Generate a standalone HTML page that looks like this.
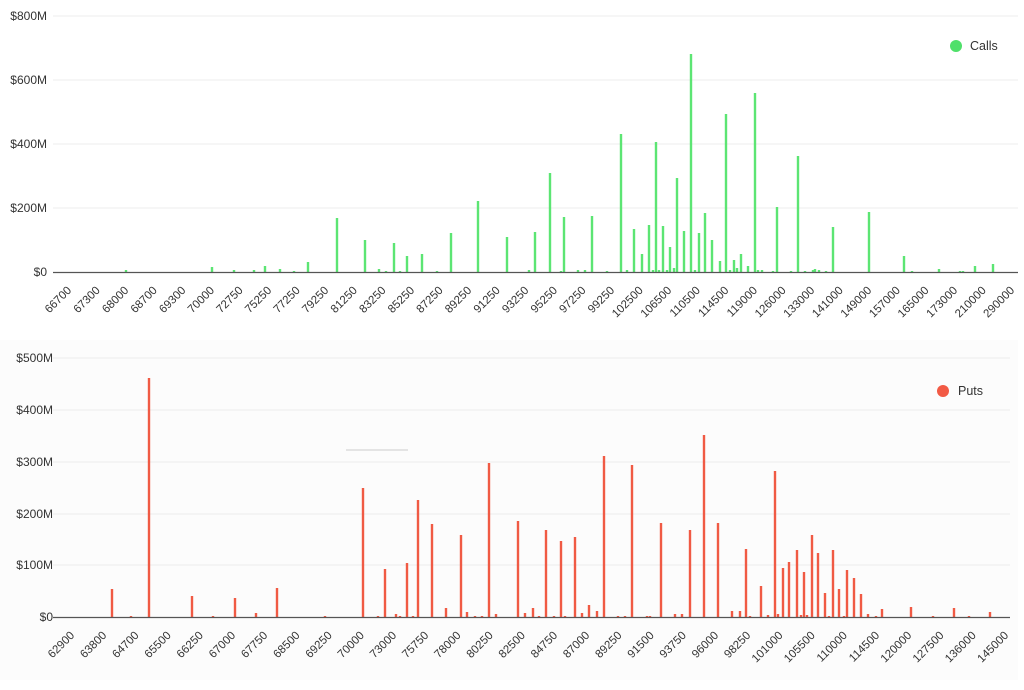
<!DOCTYPE html>
<html><head><meta charset="utf-8"><style>
html,body{margin:0;padding:0;background:#fff;width:1024px;height:690px;overflow:hidden}
svg{display:block;font-family:"Liberation Sans",sans-serif}
.yl{font-size:12px;fill:#333;text-anchor:end}
.xl{font-size:11.5px;fill:#333;text-anchor:end}
</style></head><body>
<svg id="s" width="1024" height="690" viewBox="0 0 1024 690">
<rect x="0" y="340" width="1018" height="340" fill="#fcfcfc"/>
<g stroke="#ececec" stroke-width="1">
<line x1="53" x2="1018" y1="16" y2="16"/><line x1="53" x2="1018" y1="80" y2="80"/><line x1="53" x2="1018" y1="144" y2="144"/><line x1="53" x2="1018" y1="208" y2="208"/>
<line x1="53" x2="1010" y1="358" y2="358"/><line x1="53" x2="1010" y1="410" y2="410"/><line x1="53" x2="1010" y1="462" y2="462"/><line x1="53" x2="1010" y1="514" y2="514"/><line x1="53" x2="1010" y1="565" y2="565"/>
</g>
<line x1="346" x2="408" y1="450" y2="450" stroke="#ccc"/>
<g class="yl">
<text x="47" y="20">$800M</text><text x="47" y="84">$600M</text><text x="47" y="148">$400M</text><text x="47" y="212">$200M</text><text x="47" y="276">$0</text>
<text x="53" y="362">$500M</text><text x="53" y="414">$400M</text><text x="53" y="466">$300M</text><text x="53" y="518">$200M</text><text x="53" y="569">$100M</text><text x="53" y="621">$0</text>
</g>
<g id="bars"></g>
<line x1="53" x2="1018" y1="272.5" y2="272.5" stroke="#555" stroke-width="1.2"/>
<line x1="53" x2="1010" y1="617.5" y2="617.5" stroke="#555" stroke-width="1.2"/>
<circle cx="956" cy="46" r="6" fill="#4fe06a"/><text x="970" y="50" font-size="12.5" fill="#333">Calls</text>
<circle cx="943" cy="391" r="6" fill="#f25a45"/><text x="958" y="395" font-size="12.5" fill="#333">Puts</text>
<g class="xl">
<text transform="translate(72,291) rotate(-45)">66700</text>
<text transform="translate(100.6,291) rotate(-45)">67300</text>
<text transform="translate(129.2,291) rotate(-45)">68000</text>
<text transform="translate(157.7,291) rotate(-45)">68700</text>
<text transform="translate(186.3,291) rotate(-45)">69300</text>
<text transform="translate(214.9,291) rotate(-45)">70000</text>
<text transform="translate(243.5,291) rotate(-45)">72750</text>
<text transform="translate(272.1,291) rotate(-45)">75250</text>
<text transform="translate(300.6,291) rotate(-45)">77250</text>
<text transform="translate(329.2,291) rotate(-45)">79250</text>
<text transform="translate(357.8,291) rotate(-45)">81250</text>
<text transform="translate(386.4,291) rotate(-45)">83250</text>
<text transform="translate(415,291) rotate(-45)">85250</text>
<text transform="translate(443.5,291) rotate(-45)">87250</text>
<text transform="translate(472.1,291) rotate(-45)">89250</text>
<text transform="translate(500.7,291) rotate(-45)">91250</text>
<text transform="translate(529.3,291) rotate(-45)">93250</text>
<text transform="translate(557.9,291) rotate(-45)">95250</text>
<text transform="translate(586.4,291) rotate(-45)">97250</text>
<text transform="translate(615,291) rotate(-45)">99250</text>
<text transform="translate(643.6,291) rotate(-45)">102500</text>
<text transform="translate(672.2,291) rotate(-45)">106500</text>
<text transform="translate(700.8,291) rotate(-45)">110500</text>
<text transform="translate(729.3,291) rotate(-45)">114500</text>
<text transform="translate(757.9,291) rotate(-45)">119000</text>
<text transform="translate(786.5,291) rotate(-45)">126000</text>
<text transform="translate(815.1,291) rotate(-45)">133000</text>
<text transform="translate(843.7,291) rotate(-45)">141000</text>
<text transform="translate(872.2,291) rotate(-45)">149000</text>
<text transform="translate(900.8,291) rotate(-45)">157000</text>
<text transform="translate(929.4,291) rotate(-45)">165000</text>
<text transform="translate(958,291) rotate(-45)">173000</text>
<text transform="translate(986.6,291) rotate(-45)">210000</text>
<text transform="translate(1015,291) rotate(-45)">290000</text>

<text transform="translate(75,636) rotate(-45)">62900</text>
<text transform="translate(107.2,636) rotate(-45)">63800</text>
<text transform="translate(139.4,636) rotate(-45)">64700</text>
<text transform="translate(171.6,636) rotate(-45)">65500</text>
<text transform="translate(203.8,636) rotate(-45)">66250</text>
<text transform="translate(236,636) rotate(-45)">67000</text>
<text transform="translate(268.2,636) rotate(-45)">67750</text>
<text transform="translate(300.4,636) rotate(-45)">68500</text>
<text transform="translate(332.6,636) rotate(-45)">69250</text>
<text transform="translate(364.8,636) rotate(-45)">70000</text>
<text transform="translate(397,636) rotate(-45)">73000</text>
<text transform="translate(429.2,636) rotate(-45)">75750</text>
<text transform="translate(461.4,636) rotate(-45)">78000</text>
<text transform="translate(493.6,636) rotate(-45)">80250</text>
<text transform="translate(525.8,636) rotate(-45)">82500</text>
<text transform="translate(558,636) rotate(-45)">84750</text>
<text transform="translate(590.2,636) rotate(-45)">87000</text>
<text transform="translate(622.4,636) rotate(-45)">89250</text>
<text transform="translate(654.6,636) rotate(-45)">91500</text>
<text transform="translate(686.8,636) rotate(-45)">93750</text>
<text transform="translate(719,636) rotate(-45)">96000</text>
<text transform="translate(751.2,636) rotate(-45)">98250</text>
<text transform="translate(783.4,636) rotate(-45)">101000</text>
<text transform="translate(815.6,636) rotate(-45)">105500</text>
<text transform="translate(847.8,636) rotate(-45)">110000</text>
<text transform="translate(880,636) rotate(-45)">114500</text>
<text transform="translate(912.2,636) rotate(-45)">120000</text>
<text transform="translate(944.4,636) rotate(-45)">127500</text>
<text transform="translate(976.6,636) rotate(-45)">136000</text>
<text transform="translate(1009,636) rotate(-45)">145000</text>
</g>
</svg>
<script>
var calls=[[126,270],[212,267],[234,270],[254,270],[265,266],[280,269],[294,271],[308,262],[337,218],[365,240],[379,269],[386,271],[394,243],[400,271],[407,256],[422,254],[437,271],[451,233],[478,201],[507,237],[529,270],[535,232],[550,173],[561,271],[564,217],[578,270],[585,270],[592,216],[607,271],[621,134],[627,270],[634,229],[642,254],[649,225],[653,270],[656,142],[659,270],[663,226],[667,270],[670,247],[674,268],[677,178],[684,231],[691,54],[695,270],[699,233],[705,213],[712,240],[720,261],[726,114],[730,270],[734,260],[737,268],[741,254],[748,266],[755,93],[758,270],[762,270],[773,271],[777,207],[791,271],[798,156],[805,271],[813,270],[815,269],[819,270],[826,271],[833,227],[869,212],[904,256],[912,271],[939,269],[960,271],[963,271],[975,266],[993,264]];
var puts=[[112,589],[131,616],[149,378],[192,596],[213,616],[235,598],[256,613],[277,588],[325,616],[363,488],[378,616],[385,569],[396,614],[400,616],[407,563],[413,616],[418,500],[432,524],[446,608],[461,535],[467,612],[475,616],[482,616],[489,463],[496,614],[518,521],[525,613],[533,608],[539,616],[546,530],[554,616],[561,541],[565,616],[575,537],[582,613],[589,605],[597,611],[604,456],[618,616],[625,616],[632,465],[647,616],[650,616],[661,523],[675,614],[682,614],[690,530],[704,435],[718,523],[732,611],[740,611],[746,549],[750,616],[761,586],[768,615],[775,471],[778,614],[783,568],[789,562],[797,550],[801,615],[804,572],[807,615],[812,535],[818,553],[825,593],[829,616],[833,550],[839,589],[844,616],[847,570],[854,578],[861,594],[868,614],[876,616],[882,609],[911,607],[933,616],[954,608],[969,616],[990,612]];
var h='';
calls.forEach(function(b){h+='<rect x="'+(b[0]-1.2)+'" y="'+b[1]+'" width="2.4" height="'+(272-b[1])+'" fill="#5ce573"/>';});
puts.forEach(function(b){h+='<rect x="'+(b[0]-1.2)+'" y="'+b[1]+'" width="2.4" height="'+(617-b[1])+'" fill="#f05a44"/>';});
document.getElementById('bars').innerHTML=h;
</script>
</body></html>
